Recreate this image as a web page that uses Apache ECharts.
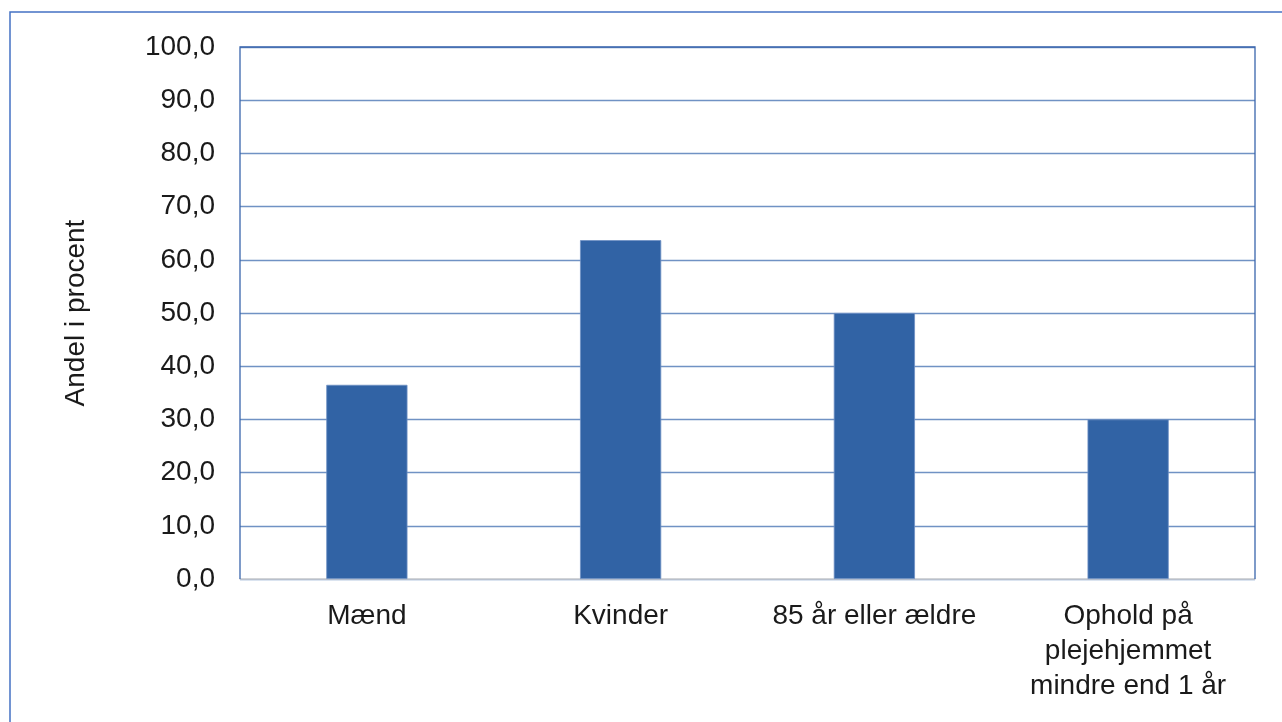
<!DOCTYPE html>
<html><head><meta charset="utf-8">
<script src="https://cdn.jsdelivr.net/npm/echarts@6/dist/echarts.min.js"></script>
<style>html,body{margin:0;padding:0;background:#fff}#c{width:1282px;height:722px}</style>
</head><body><div id="c"></div>
<script>
const categories = ['Mænd', 'Kvinder', '85 år eller ældre', 'Ophold på\nplejehjemmet\nmindre end 1 år'];
const values = [36.5, 63.7, 50.0, 30.0];
const yTicks = {min: 0, max: 100, interval: 10};

const chart = echarts.init(document.getElementById('c'), null, {renderer: 'canvas'});
const font = 'Liberation Sans, Arial, sans-serif';
chart.setOption({
  animation: false,
  textStyle: {fontFamily: font},
  graphic: [
    {type: 'rect', shape: {x: 10, y: 12, width: 1300, height: 800}, style: {fill: 'none', stroke: '#4472c4', lineWidth: 1.5}, z: -1},
    {type: 'polyline', shape: {points: [[240, 579], [240, 47], [1255, 47], [1255, 579]]}, style: {fill: 'none', stroke: '#3a66ad', lineWidth: 1.3}, z: 10}
  ],
  grid: {left: 240, right: 27, top: 47, bottom: 143, containLabel: false},
  xAxis: {
    type: 'category', data: categories,
    axisLine: {show: true, lineStyle: {color: '#d0d0d0', width: 1.5}},
    axisTick: {show: false},
    axisLabel: {color: '#1a1a1a', fontSize: 28, fontFamily: font, margin: 20, lineHeight: 35, interval: 0}
  },
  yAxis: {
    type: 'value', min: yTicks.min, max: yTicks.max, interval: yTicks.interval,
    name: 'Andel i procent', nameLocation: 'middle', nameGap: 150, nameRotate: 90,
    nameTextStyle: {color: '#1a1a1a', fontSize: 28, fontFamily: font},
    axisLine: {show: false}, axisTick: {show: false},
    axisLabel: {color: '#1a1a1a', fontSize: 28, fontFamily: font, margin: 25,
      formatter: v => v.toFixed(1).replace('.', ',')},
    splitLine: {lineStyle: {color: '#7092c4', width: 1.3}}
  },
  series: [{
    type: 'bar', data: values, barWidth: '32%',
    itemStyle: {color: '#3163a5', borderColor: '#6f91c4', borderWidth: 0.8}
  }]
});
</script></body></html>
